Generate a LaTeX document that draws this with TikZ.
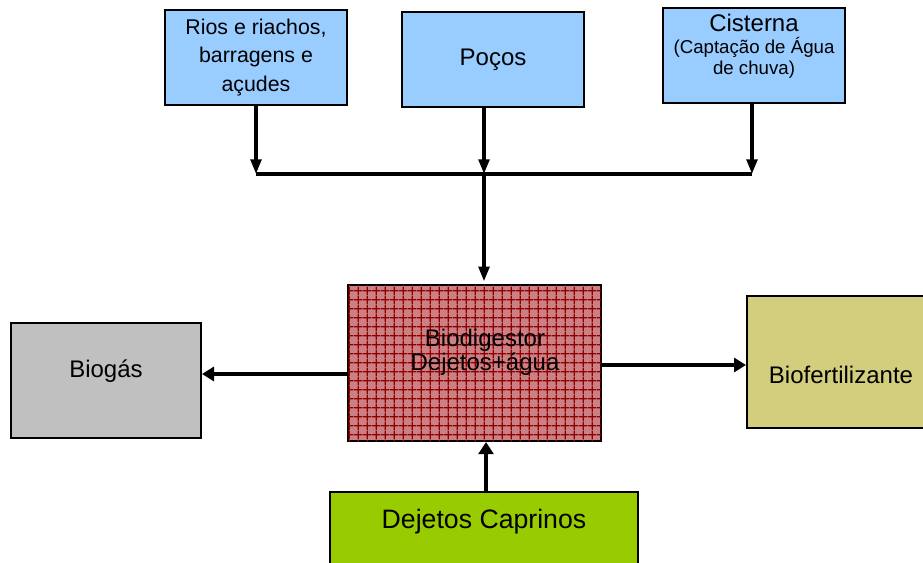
\documentclass[tikz,border=0pt]{standalone}
\usepackage{fontspec}
\setmainfont{Liberation Sans}
\usetikzlibrary{arrows.meta, positioning, patterns.meta}
\definecolor{fonteblue}{RGB}{153,204,255}
\definecolor{biogray}{RGB}{192,192,192}
\definecolor{fertkhaki}{RGB}{211,205,126}
\definecolor{capgreen}{RGB}{153,204,0}
\definecolor{digpink}{RGB}{205,128,132}
\definecolor{digred}{RGB}{140,0,0}

\begin{document}
\begin{tikzpicture}[x=0.75pt, y=-0.75pt,
    fonte/.style={draw, line width=1.5pt, fill=fonteblue, minimum width=136.5pt, minimum height=71.25pt, inner sep=2pt, align=center},
    saida/.style={draw, line width=1.5pt, inner sep=2pt, align=center},
    texto/.style={inner sep=0pt, align=center},
    fluxo/.style={line width=2.5pt, -{Triangle[length=11pt, width=8pt]}},
    grosso/.style={line width=3pt, -{Triangle[length=9pt, width=10.5pt]}},
    ]
    \clip (0,0) rectangle (923,563);

    % Water sources (top row)
    \node[fonte, font=\fontsize{16}{21.5}\selectfont] (rios) at (256,57.5) {Rios e riachos,\\barragens e\\açudes};
    \node[fonte, font=\fontsize{18}{21}\selectfont] (pocos) at (493,59.5) {Poços};
    \node[fonte] (cisterna) at (754,55.5) {};
    \node[texto, font=\fontsize{14}{15.5}\selectfont] (cistexto) at (754,46)
        {\fontsize{18}{18}\selectfont Cisterna\\[1.5pt](Captação de Água\\de chuva)};

    % Biodigester (center)
    \node[saida, fill=digpink, minimum width=189.75pt, minimum height=117pt,
          postaction={pattern={Hatch[distance=6.9pt, line width=1.1pt]}, pattern color=digred}] (bio) at (474.5,363) {};
    \node[texto, font=\fontsize{18}{16.5}\selectfont] (biotexto) at (485,352) {Biodigestor\\Dejetos+água};

    % Outputs (left and right)
    \node[saida, fill=biogray, minimum width=142.5pt, minimum height=86.25pt,
          text height=13pt, text depth=16.8pt, font=\fontsize{18}{21}\selectfont] (biogas) at (106,380.5) {Biogás};
    \node[saida, fill=fertkhaki, minimum width=141pt, minimum height=99pt,
          text height=34.5pt, text depth=3pt, font=\fontsize{18}{21}\selectfont] (fert) at (841,362) {Biofertilizante};

    % Goat manure (bottom)
    \node[saida, fill=capgreen, minimum width=231pt, inner ysep=0pt,
          text height=27pt, text depth=45pt, anchor=north, font=\fontsize{20}{24}\selectfont] (dejetos) at (484,491) {Dejetos Caprinos};

    % Collector bar
    \coordinate (jrios) at (256,174);
    \coordinate (jpocos) at (484,174);
    \coordinate (jcist) at (752,174);
    \draw[line width=2.5pt] (jrios) -- (jcist);

    % Arrows
    \draw[fluxo] (rios.south) -- (jrios);
    \draw[fluxo] (pocos.south -| jpocos) -- (jpocos);
    \draw[fluxo] (cisterna.south -| jcist) -- (jcist);
    \draw[fluxo] (jpocos) -- ([yshift=2pt]bio.north -| jpocos);
    \draw[grosso] (bio.west |- 0,374) -- (biogas.east |- 0,374);
    \draw[line width=2.5pt, -{Triangle[length=9pt, width=10.5pt]}] (bio.east |- 0,365) -- (fert.west |- 0,365);
    \draw[line width=3.5pt, -{Triangle[length=9pt, width=11pt]}] (dejetos.north -| 486,0) -- (bio.south -| 486,0);
\end{tikzpicture}
\end{document}
